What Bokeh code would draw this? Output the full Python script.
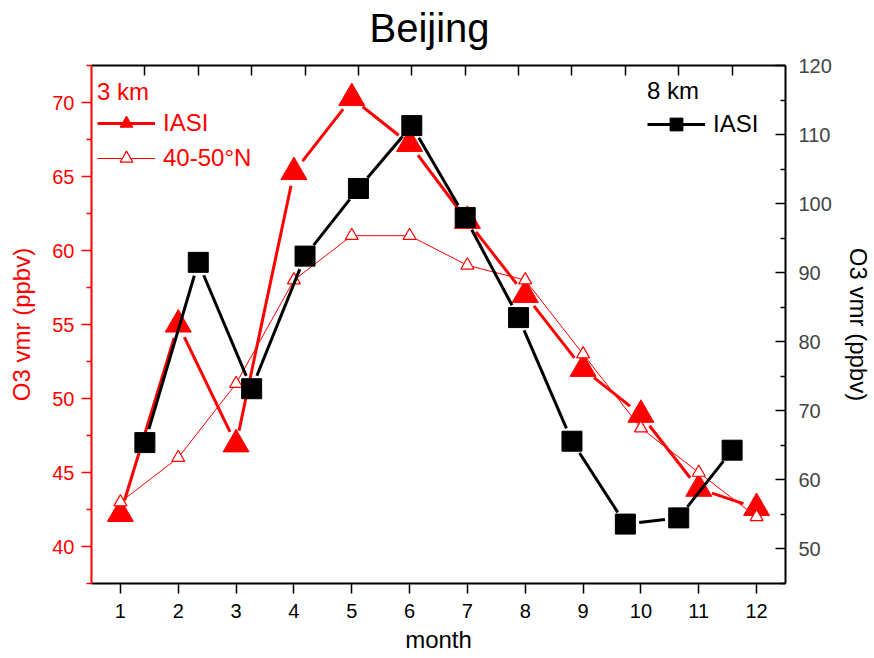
import numpy as np
from bokeh.plotting import figure
from bokeh.models import (Range1d, LinearAxis, FixedTicker, Legend, LegendItem,
                          Title)
from bokeh.embed import file_html
from bokeh.resources import INLINE

# ---------------- data ----------------
months = [1, 2, 3, 4, 5, 6, 7, 8, 9, 10, 11, 12]
iasi_3km = [42.2, 55.0, 46.9, 65.3, 70.3, 67.2, 62.0, 57.0, 52.0, 48.9, 43.9, 42.6]
zonal_40_50N = [43, 46, 51, 58, 61, 61, 59, 58, 53, 48, 45, 42]
iasi_8km = [65.4, 91.5, 73.2, 92.4, 102.2, 111.3, 98.0, 83.5, 65.6, 53.6, 54.5, 64.3]

x_ticks = months
left_ticks = [40, 45, 50, 55, 60, 65, 70]
left_minor = [37.5, 42.5, 47.5, 52.5, 57.5, 62.5, 67.5, 72.5]
right_ticks = [50, 60, 70, 80, 90, 100, 110, 120]
right_minor = [45, 55, 65, 75, 85, 95, 105, 115]

title_text = "Beijing"
x_label = "month"
y_label = "O3 vmr (ppbv)"

# ---------------- layout ----------------
W, H = 874, 658
BL, BR, BT, BB = 91, 84, 65, 75
FW, FH = W - BL - BR, H - BT - BB
X_RANGE = (0.5, 12.5)
Y_LEFT = (37.5, 72.5)
X_TOP = (0, 13)
Y_RIGHT = (45, 120)
RED = "#ff0000"
FONT = "Liberation Sans"


def gapped(xs, ys, xr, yr, gap):
    """Segments between consecutive points, shortened by `gap` pixels at each end."""
    kx = FW / (xr[1] - xr[0])
    ky = FH / (yr[1] - yr[0])
    x = np.asarray(xs, float)
    y = np.asarray(ys, float)
    dx, dy = np.diff(x), np.diff(y)
    L = np.hypot(dx * kx, dy * ky)
    f = gap / L
    return dict(x0=x[:-1] + dx * f, y0=y[:-1] + dy * f,
                x1=x[1:] - dx * f, y1=y[1:] - dy * f)


p = figure(width=W, height=H, output_backend="svg", toolbar_location=None,
           x_range=Range1d(*X_RANGE), y_range=Range1d(*Y_LEFT),
           min_border_left=BL, min_border_right=BR,
           min_border_top=BT, min_border_bottom=BB)
p.outline_line_color = None
p.xgrid.visible = False
p.ygrid.visible = False
p.background_fill_color = "white"
p.border_fill_color = "white"
p.extra_x_ranges = {"x2": Range1d(*X_TOP)}
p.extra_y_ranges = {"y2": Range1d(*Y_RIGHT)}

p.title = Title(text=title_text, align="left", offset=278,
                text_font=FONT, text_font_size="40px",
                text_font_style="normal", text_color="black", standoff=4)

# bottom axis
xa = p.xaxis[0]
xa.ticker = FixedTicker(ticks=x_ticks, minor_ticks=[])
xa.axis_line_width = 2
xa.major_tick_line_width = 1.5
xa.major_tick_out = 10
xa.major_tick_in = 0
xa.major_label_standoff = 10
xa.major_label_text_font = FONT
xa.major_label_text_font_size = "20px"
xa.major_label_text_color = "black"
xa.axis_label = x_label
xa.axis_label_text_font = FONT
xa.axis_label_text_font_size = "24px"
xa.axis_label_text_font_style = "normal"
xa.axis_label_text_color = "black"
xa.axis_label_standoff = 5

# left axis (red)
ya = p.yaxis[0]
ya.ticker = FixedTicker(ticks=left_ticks, minor_ticks=left_minor)
ya.axis_line_color = RED
ya.axis_line_width = 2
ya.major_tick_line_color = RED
ya.minor_tick_line_color = RED
ya.major_tick_line_width = 1.5
ya.minor_tick_line_width = 1.5
ya.major_tick_out = 10
ya.major_tick_in = 0
ya.minor_tick_out = 5
ya.minor_tick_in = 0
ya.major_label_standoff = 7
ya.major_label_text_font = FONT
ya.major_label_text_font_size = "20px"
ya.major_label_text_color = RED
ya.axis_label = y_label
ya.axis_label_text_font = FONT
ya.axis_label_text_font_size = "24px"
ya.axis_label_text_font_style = "normal"
ya.axis_label_text_color = RED
ya.axis_label_standoff = 14

# right axis (black)
ra = LinearAxis(y_range_name="y2",
                ticker=FixedTicker(ticks=right_ticks, minor_ticks=right_minor))
ra.axis_line_width = 2
ra.major_tick_line_width = 1.5
ra.minor_tick_line_width = 1.5
ra.major_tick_in = 10
ra.major_tick_out = 0
ra.minor_tick_in = 5
ra.minor_tick_out = 0
ra.major_label_standoff = 13
ra.major_label_text_font = FONT
ra.major_label_text_font_size = "20px"
ra.axis_label = y_label
ra.axis_label_text_font = FONT
ra.axis_label_text_font_size = "24px"
ra.axis_label_text_font_style = "normal"
ra.axis_label_text_color = "black"
ra.axis_label_standoff = 10
p.add_layout(ra, "right")

# top axis (black, ticks inward, no labels)
ta = LinearAxis(x_range_name="x2", ticker=FixedTicker(ticks=x_ticks, minor_ticks=[]))
ta.axis_line_width = 2
ta.major_tick_line_width = 1.5
ta.major_tick_in = 10
ta.major_tick_out = 0
ta.major_label_standoff = 0
ta.major_label_text_font_size = "1px"
ta.major_label_text_color = None
p.add_layout(ta, "above")

# invisible spacer axis: only reserves room between the frame and the title
spacer = LinearAxis(x_range_name="x2", ticker=FixedTicker(ticks=x_ticks, minor_ticks=[]))
spacer.axis_line_color = None
spacer.major_tick_line_color = None
spacer.minor_tick_line_color = None
spacer.major_tick_in = 0
spacer.major_tick_out = 14
spacer.major_label_standoff = 0
spacer.major_label_text_font_size = "1px"
spacer.major_label_text_color = None
p.add_layout(spacer, "above")

# ---------------- series ----------------
# 3 km IASI (thick red, filled triangles)
r_seg = p.segment(source=gapped(months, iasi_3km, X_RANGE, Y_LEFT, 14),
                  x0="x0", y0="y0", x1="x1", y1="y1",
                  line_color=RED, line_width=3)
r_tri = p.scatter(months, iasi_3km, marker="triangle", size=26,
                  fill_color=RED, line_color=RED, line_width=1)

# 40-50N zonal mean (thin red, open triangles)
z_line = p.line(months, zonal_40_50N, line_color=RED, line_width=1)
z_tri = p.scatter(months, zonal_40_50N, marker="triangle", size=13,
                  fill_color="white", line_color=RED, line_width=1.2)

# 8 km IASI (black, squares) on the secondary axes
b_seg = p.segment(source=gapped(months, iasi_8km, X_TOP, Y_RIGHT, 14),
                  x0="x0", y0="y0", x1="x1", y1="y1",
                  line_color="black", line_width=3,
                  x_range_name="x2", y_range_name="y2")
b_sq = p.scatter(months, iasi_8km, marker="square", size=20,
                 fill_color="black", line_color="black",
                 x_range_name="x2", y_range_name="y2")

# ---------------- legends ----------------
def style_legend(lg, color, title_standoff):
    lg.background_fill_alpha = 0
    lg.border_line_color = None
    lg.padding = 0
    lg.margin = 0
    lg.spacing = 3
    lg.glyph_width = 58
    lg.glyph_height = 32
    lg.label_height = 32
    lg.label_standoff = 8
    lg.label_text_font = FONT
    lg.label_text_font_size = "24px"
    lg.label_text_color = color
    lg.title_text_font = FONT
    lg.title_text_font_size = "24px"
    lg.title_text_font_style = "normal"
    lg.title_text_color = color
    lg.title_standoff = title_standoff


leg_l = Legend(items=[LegendItem(label="IASI", renderers=[r_seg, r_tri]),
                      LegendItem(label="40-50°N", renderers=[z_line, z_tri])],
               title="3 km", location=(6, 409))
style_legend(leg_l, RED, 1)
p.add_layout(leg_l)

leg_r = Legend(items=[LegendItem(label="IASI", renderers=[b_seg, b_sq])],
               title="8 km", location=(556, 443))
style_legend(leg_r, "black", 3)
p.add_layout(leg_r)

open("out.html", "w").write(file_html(p, INLINE))
